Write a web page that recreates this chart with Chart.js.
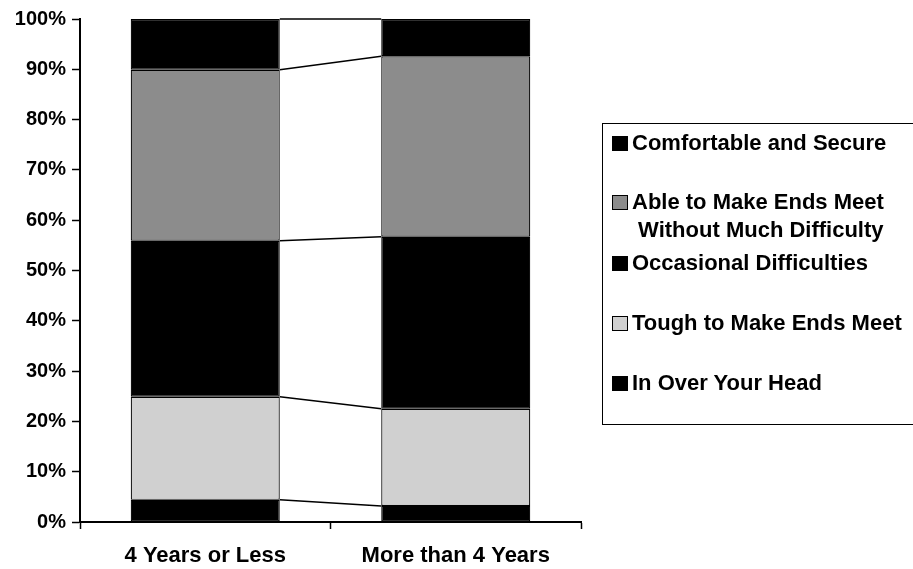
<!DOCTYPE html>
<html>
<head>
<meta charset="utf-8">
<script src="https://cdn.jsdelivr.net/npm/chart.js@4/dist/chart.umd.min.js"></script>
<style>
  html, body { margin: 0; padding: 0; background: #fff; }
  #wrap { position: relative; width: 913px; height: 569px; overflow: hidden; }
  #c { position: absolute; left: 0; top: 0; }
  #legend { position: absolute; left: 602px; top: 123px; width: 340px; height: 302px;
            border: 1.5px solid #000; box-sizing: border-box;
            font-family: "Liberation Sans", Arial, sans-serif; font-weight: bold; font-size: 22px; color: #000; }
  .item { position: absolute; left: 9px; display: flex; align-items: flex-start; line-height: 28px; }
  .sw { width: 16px; height: 15px; border: 1px solid #000; box-sizing: border-box; margin-top: 7px; margin-right: 4px; flex: none; }
</style>
</head>
<body>
<div id="wrap">
  <canvas id="c" width="913" height="569"></canvas>
  <div id="legend"></div>
</div>
<script>
const categories = ['4 Years or Less', 'More than 4 Years'];
const seriesNames = ['In Over Your Head', 'Tough to Make Ends Meet', 'Occasional Difficulties',
                     'Able to Make Ends Meet Without Much Difficulty', 'Comfortable and Secure'];
const inOverYourHead = [4.4, 3.2];
const toughToMakeEndsMeet = [20.5, 19.3];
const occasionalDifficulties = [31.0, 34.2];
const ableToMakeEndsMeet = [34.0, 35.9];
const comfortableAndSecure = [10.1, 7.4];
const yTicks = [0, 10, 20, 30, 40, 50, 60, 70, 80, 90, 100];

const seriesValues = [inOverYourHead, toughToMakeEndsMeet, occasionalDifficulties, ableToMakeEndsMeet, comfortableAndSecure];
const seriesColors = ['#000000', '#d0d0d0', '#000000', '#8c8c8c', '#000000'];

const FONT = '"Liberation Sans", Arial, sans-serif';

const seriesLines = {
  id: 'seriesLines',
  afterDatasetsDraw(chart) {
    const ctx = chart.ctx;
    ctx.save();
    ctx.strokeStyle = '#000';
    ctx.lineWidth = 1.5;
    chart.data.datasets.forEach((ds, i) => {
      const meta = chart.getDatasetMeta(i);
      const a = meta.data[0], b = meta.data[1];
      if (!a || !b) return;
      ctx.beginPath();
      ctx.moveTo(a.x + a.width / 2, a.y);
      ctx.lineTo(b.x - b.width / 2, b.y);
      ctx.stroke();
    });
    ctx.restore();
  }
};

new Chart(document.getElementById('c'), {
  type: 'bar',
  data: {
    labels: categories,
    datasets: seriesNames.map((n, i) => ({
      label: n,
      data: seriesValues[i],
      backgroundColor: seriesColors[i],
      borderColor: '#000',
      borderWidth: 1.2,
      borderSkipped: false,
      barPercentage: 0.595,
      categoryPercentage: 1.0
    }))
  },
  options: {
    responsive: false,
    animation: false,
    devicePixelRatio: 1,
    layout: { padding: { top: 19, right: 332, bottom: 0, left: 0 } },
    plugins: { legend: { display: false }, tooltip: { enabled: false } },
    scales: {
      x: {
        stacked: true,
        offset: true,
        grid: { display: true, drawOnChartArea: false, drawTicks: true, tickLength: 7, tickColor: '#000', tickWidth: 1.5, offset: true },
        border: { display: true, color: '#000', width: 2 },
        ticks: { color: '#000', padding: 14, font: { family: FONT, weight: 'bold', size: 22 }, maxRotation: 0 },
        afterFit(s) { s.height = 47; }
      },
      y: {
        stacked: true,
        min: 0, max: 100,
        afterBuildTicks(s) { s.ticks = yTicks.map(v => ({ value: v })); },
        grid: { display: true, drawOnChartArea: false, drawTicks: true, tickLength: 8, tickColor: '#000', tickWidth: 1.5 },
        border: { display: true, color: '#000', width: 2 },
        ticks: { color: '#000', padding: 6, font: { family: FONT, weight: 'bold', size: 20 },
                 callback: v => v + '%' },
        afterFit(s) { s.width = 80; }
      }
    }
  },
  plugins: [seriesLines]
});

// HTML legend (top series first)
const legendTops = [5, 64, 125, 185, 245];
const legend = document.getElementById('legend');
const order = [4, 3, 2, 1, 0];
order.forEach((si, k) => {
  const item = document.createElement('div');
  item.className = 'item';
  item.style.top = legendTops[k] + 'px';
  const sw = document.createElement('div');
  sw.className = 'sw';
  sw.style.background = seriesColors[si];
  const tx = document.createElement('div');
  if (si === 3) {
    tx.innerHTML = 'Able to Make Ends Meet<br>&nbsp;Without Much Difficulty';
  } else {
    tx.textContent = seriesNames[si];
  }
  item.appendChild(sw);
  item.appendChild(tx);
  legend.appendChild(item);
});
</script>
</body>
</html>
